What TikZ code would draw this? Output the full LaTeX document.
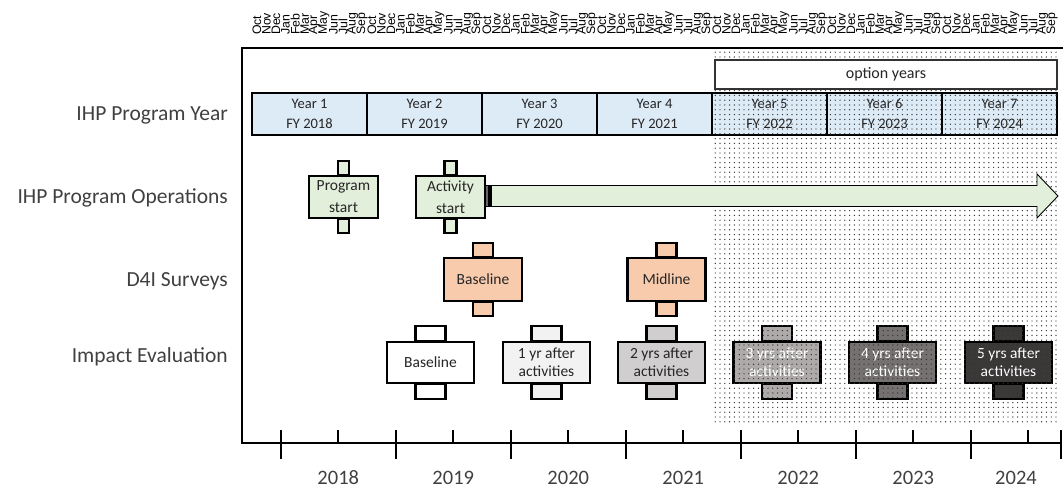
\documentclass[tikz,border=0pt]{standalone}
\usepackage{fontspec}
\setmainfont{Carlito}
\newfontfamily\arialf{Liberation Sans}
\usetikzlibrary{patterns.meta}
\definecolor{yrblue}{HTML}{DDEBF7}
\definecolor{opgreen}{HTML}{E2EFDA}
\definecolor{peach}{HTML}{F8CBAD}
\definecolor{ieA}{HTML}{F2F2F2}
\definecolor{ieB}{HTML}{D0CECE}
\definecolor{ieC}{HTML}{AEAAAA}
\definecolor{ieD}{HTML}{767171}
\definecolor{ieE}{HTML}{3B3838}
\definecolor{txt}{HTML}{262626}
\pgfdeclarelayer{tabs}\pgfdeclarelayer{dots}\pgfdeclarelayer{top}
\pgfsetlayers{tabs,main,dots,top}
\tikzset{
 yearbox/.style={draw=black, line width=2.4pt, fill=yrblue, minimum width=115pt, minimum height=42pt, inner sep=0pt, align=center, font=\fontsize{14.5}{20}\selectfont, text=txt},
 tabbox/.style={draw=black, line width=2.2pt, inner sep=0pt, align=center, text=txt},
 opbox/.style={tabbox, fill=opgreen, minimum width=69pt, minimum height=42pt, font=\fontsize{15.5}{22}\selectfont},
 svbox/.style={tabbox, fill=peach, minimum width=78pt, minimum height=43pt, font=\fontsize{15.5}{20}\selectfont},
 iebox/.style={tabbox, minimum width=87pt, minimum height=41pt, font=\fontsize{15.5}{18}\selectfont},
 tabrect/.style={draw=black, line width=2.2pt},
 rowlabel/.style={anchor=east, inner sep=0pt, font=\fontsize{21.5}{24}\selectfont, text=black!75},
 yrlabel/.style={inner sep=0pt, font=\fontsize{20.5}{22}\selectfont, text=black!75},
 month/.style={rotate=90, anchor=west, inner sep=0pt, font=\arialf\fontsize{12.3}{13}\selectfont},
 framestyle/.style={line width=2.6pt},
 tickstyle/.style={line width=1.8pt},
}
\newcommand\tabs[4]{%
 \begin{pgfonlayer}{tabs}
 \draw[tabrect, fill=#4] ([xshift=-#2pt]#1.north) rectangle ([xshift=#2pt, yshift=#3pt]#1.north);
 \draw[tabrect, fill=#4] ([xshift=-#2pt]#1.south) rectangle ([xshift=#2pt, yshift=-#3pt]#1.south);
 \end{pgfonlayer}}
\begin{document}
\begin{tikzpicture}[x=1pt,y=-1pt]
\useasboundingbox (0,0) rectangle (1063,489);
% month labels
\foreach \yr in {0,...,6}{
 \foreach \m [count=\i from 0] in {Oct,Nov,Dec,Jan,Feb,Mar,Apr,May,Jun,Jul,Aug,Sep}{
  \node[month] (m-\yr-\i) at ({252+(12*\yr+\i+0.5)*9.5833},35) {\m};
 }}
% row labels
\node[rowlabel] (l1) at (228,115) {IHP Program Year};
\node[rowlabel] (l2) at (228,198) {IHP Program Operations};
\node[rowlabel] (l3) at (228,281) {D4I Surveys};
\node[rowlabel] (l4) at (228,357) {Impact Evaluation};
% year boxes
\foreach \k/\fy in {1/2018,2/2019,3/2020,4/2021,5/2022,6/2023,7/2024}{
 \node[yearbox] (y\k) at ({252+(\k-0.5)*115},114) {Year \k\\FY \fy};
}
% program operations
\node[opbox] (ps) at (343.5,197) {Program\\start}; \tabs{ps}{5.5}{14}{opgreen}
\node[opbox] (as) at (450.5,197) {Activity\\start}; \tabs{as}{6}{14}{opgreen}
% D4I surveys
\node[svbox] (sb) at (483,279.5) {Baseline}; \tabs{sb}{10}{14}{peach}
\node[svbox] (sm) at (666.5,279.5) {Midline}; \tabs{sm}{10}{14}{peach}
% impact evaluation
\node[iebox, fill=white] (ib) at (430.5,362.5) {Baseline}; \tabs{ib}{15}{15}{white}
\node[iebox, fill=ieA] (i1) at (546.5,362.5) {1 yr after\\activities}; \tabs{i1}{15}{15}{ieA}
\node[iebox, fill=ieB] (i2) at (661.5,362.5) {2 yrs after\\activities}; \tabs{i2}{15}{15}{ieB}
\node[iebox, fill=ieC, text=white] (i3) at (777,362.5) {3 yrs after\\activities}; \tabs{i3}{15}{15}{ieC}
\node[iebox, fill=ieD, text=white] (i4) at (892.5,362.5) {4 yrs after\\activities}; \tabs{i4}{15}{15}{ieD}
\node[iebox, fill=ieE, text=white] (i5) at (1008.5,362.5) {5 yrs after\\activities}; \tabs{i5}{15}{15}{ieE}
% dotted option-year area
\begin{pgfonlayer}{dots}
\fill[pattern={Dots[distance=4.8pt, radius=0.7pt]}, pattern color=black!80] (712,50) rectangle (1060,425);
\end{pgfonlayer}
\begin{pgfonlayer}{top}
\node[draw=black!80, line width=1.2pt, fill=white, minimum width=342pt, minimum height=29pt, inner sep=0pt, font=\fontsize{16}{18}\selectfont, text=txt] (opt) at (886,74.5) {option years};
% striped arrow
\draw[line width=0.6pt, fill=black!60] (485.5,185.5) rectangle (488.5,206.5);
\draw[line width=0.6pt, fill=black!60] (489.5,185.5) rectangle (490.5,206.5);
\draw[line width=0.9pt, line join=miter, fill=opgreen] (491.5,185.5) -- (1037,185.5) -- (1037,174) -- (1058,196) -- (1037,218) -- (1037,206.5) -- (491.5,206.5) -- cycle;
% frame and axis
\coordinate (tl) at (242,48); \coordinate (tr) at (1063,48);
\coordinate (bl) at (242,443); \coordinate (br) at (1062,443);
\draw[framestyle] (tr) -- (tl) -- (bl) -- (br);
\foreach \k in {0,...,6}{
 \draw[tickstyle] ({252+(3+12*\k)*9.5833},430) -- ({252+(3+12*\k)*9.5833},459);
 \draw[tickstyle] ({252+(9+12*\k)*9.5833},430) -- ({252+(9+12*\k)*9.5833},443);
}
\draw[tickstyle] (1061,430) -- (1061,459);
\end{pgfonlayer}
\foreach \k/\yy in {0/2018,1/2019,2/2020,3/2021,4/2022,5/2023}{
 \node[yrlabel] (a\yy) at ({252+(9+12*\k)*9.5833},478) {\yy};
}
\node[yrlabel] (a2024) at (1016,478) {2024};
\end{tikzpicture}
\end{document}
